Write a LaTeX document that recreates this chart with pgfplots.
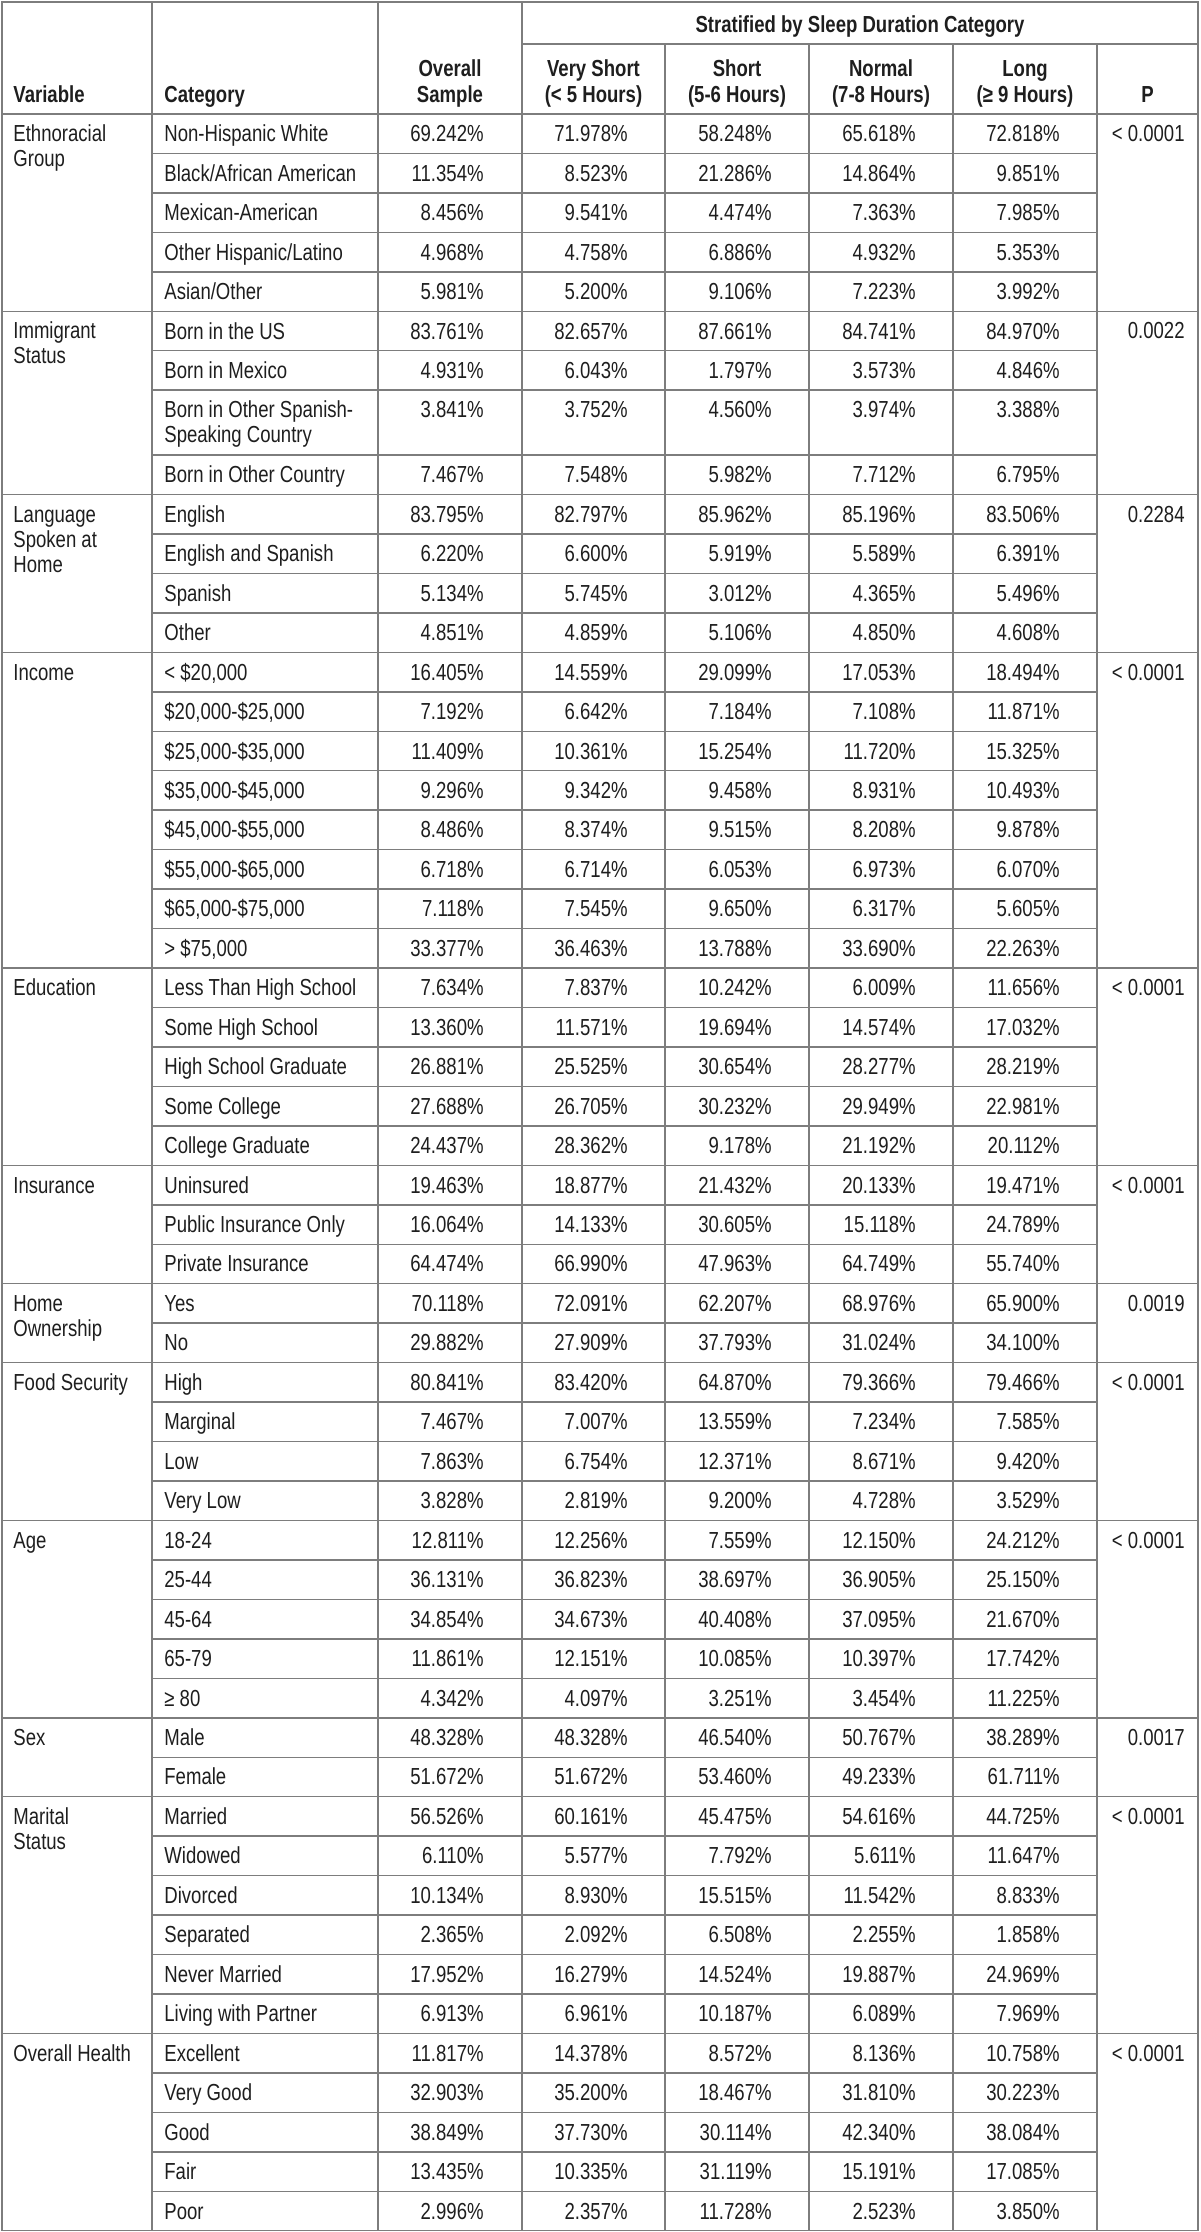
\documentclass[border=0pt]{standalone}
\usepackage{pgfplots}
\pgfplotsset{compat=1.18}
\usepackage{pgfplotstable}
\usepackage{fontspec}
\setmainfont{Liberation Sans}[FakeStretch=0.80]
\definecolor{txt}{RGB}{30,30,30}
\definecolor{rl}{RGB}{125,125,125}
\newcommand{\fs}{\fontsize{11.6}{12.5}\selectfont}
\newcommand{\ry}[1]{(141.7+(#1)*39.46+((#1)>7)*25.4)}

\pgfplotstableread[col sep=semicolon]{
cat;ov;vs;sh;no;lo
Non-Hispanic White;69.242;71.978;58.248;65.618;72.818
Black/African American;11.354;8.523;21.286;14.864;9.851
Mexican-American;8.456;9.541;4.474;7.363;7.985
Other Hispanic/Latino;4.968;4.758;6.886;4.932;5.353
Asian/Other;5.981;5.200;9.106;7.223;3.992
Born in the US;83.761;82.657;87.661;84.741;84.970
Born in Mexico;4.931;6.043;1.797;3.573;4.846
Born in Other Spanish-;3.841;3.752;4.560;3.974;3.388
Born in Other Country;7.467;7.548;5.982;7.712;6.795
English;83.795;82.797;85.962;85.196;83.506
English and Spanish;6.220;6.600;5.919;5.589;6.391
Spanish;5.134;5.745;3.012;4.365;5.496
Other;4.851;4.859;5.106;4.850;4.608
< \$20,000;16.405;14.559;29.099;17.053;18.494
\$20,000-\$25,000;7.192;6.642;7.184;7.108;11.871
\$25,000-\$35,000;11.409;10.361;15.254;11.720;15.325
\$35,000-\$45,000;9.296;9.342;9.458;8.931;10.493
\$45,000-\$55,000;8.486;8.374;9.515;8.208;9.878
\$55,000-\$65,000;6.718;6.714;6.053;6.973;6.070
\$65,000-\$75,000;7.118;7.545;9.650;6.317;5.605
> \$75,000;33.377;36.463;13.788;33.690;22.263
Less Than High School;7.634;7.837;10.242;6.009;11.656
Some High School;13.360;11.571;19.694;14.574;17.032
High School Graduate;26.881;25.525;30.654;28.277;28.219
Some College;27.688;26.705;30.232;29.949;22.981
College Graduate;24.437;28.362;9.178;21.192;20.112
Uninsured;19.463;18.877;21.432;20.133;19.471
Public Insurance Only;16.064;14.133;30.605;15.118;24.789
Private Insurance;64.474;66.990;47.963;64.749;55.740
Yes;70.118;72.091;62.207;68.976;65.900
No;29.882;27.909;37.793;31.024;34.100
High;80.841;83.420;64.870;79.366;79.466
Marginal;7.467;7.007;13.559;7.234;7.585
Low;7.863;6.754;12.371;8.671;9.420
Very Low;3.828;2.819;9.200;4.728;3.529
18-24;12.811;12.256;7.559;12.150;24.212
25-44;36.131;36.823;38.697;36.905;25.150
45-64;34.854;34.673;40.408;37.095;21.670
65-79;11.861;12.151;10.085;10.397;17.742
≥ 80;4.342;4.097;3.251;3.454;11.225
Male;48.328;48.328;46.540;50.767;38.289
Female;51.672;51.672;53.460;49.233;61.711
Married;56.526;60.161;45.475;54.616;44.725
Widowed;6.110;5.577;7.792;5.611;11.647
Divorced;10.134;8.930;15.515;11.542;8.833
Separated;2.365;2.092;6.508;2.255;1.858
Never Married;17.952;16.279;14.524;19.887;24.969
Living with Partner;6.913;6.961;10.187;6.089;7.969
Excellent;11.817;14.378;8.572;8.136;10.758
Very Good;32.903;35.200;18.467;31.810;30.223
Good;38.849;37.730;30.114;42.340;38.084
Fair;13.435;10.335;31.119;15.191;17.085
Poor;2.996;2.357;11.728;2.523;3.850
}\datatbl

\begin{document}
\begin{tikzpicture}
\begin{axis}[name=tbl, scale only axis, width=600pt, height=1116pt,
  xmin=0, xmax=1200, ymin=0, ymax=2232, y dir=reverse,
  hide axis, clip=false,
  every node near coord/.append style={inner sep=0pt, font=\fs, text=txt},
]
\addplot[draw=none, mark=none, nodes near coords, point meta=explicit symbolic,
  nodes near coords align={anchor=base west}]
  table[x expr=164, y expr={141.7+\coordindex*39.46+(\coordindex>7)*25.4}, meta=cat]{\datatbl};
\addplot[draw=none, mark=none, nodes near coords={\pgfplotspointmeta\%}, point meta=explicit symbolic,
  nodes near coords align={anchor=base east}]
  table[x expr=484, y expr={141.7+\coordindex*39.46+(\coordindex>7)*25.4}, meta=ov]{\datatbl};
\addplot[draw=none, mark=none, nodes near coords={\pgfplotspointmeta\%}, point meta=explicit symbolic,
  nodes near coords align={anchor=base east}]
  table[x expr=628, y expr={141.7+\coordindex*39.46+(\coordindex>7)*25.4}, meta=vs]{\datatbl};
\addplot[draw=none, mark=none, nodes near coords={\pgfplotspointmeta\%}, point meta=explicit symbolic,
  nodes near coords align={anchor=base east}]
  table[x expr=772, y expr={141.7+\coordindex*39.46+(\coordindex>7)*25.4}, meta=sh]{\datatbl};
\addplot[draw=none, mark=none, nodes near coords={\pgfplotspointmeta\%}, point meta=explicit symbolic,
  nodes near coords align={anchor=base east}]
  table[x expr=916, y expr={141.7+\coordindex*39.46+(\coordindex>7)*25.4}, meta=no]{\datatbl};
\addplot[draw=none, mark=none, nodes near coords={\pgfplotspointmeta\%}, point meta=explicit symbolic,
  nodes near coords align={anchor=base east}]
  table[x expr=1060, y expr={141.7+\coordindex*39.46+(\coordindex>7)*25.4}, meta=lo]{\datatbl};
\end{axis}
\begin{scope}[shift={(tbl.north west)}, x=0.5pt, y=-0.5pt]
  \path (0,0) rectangle (1200,2232);
  \tikzset{ln/.style={draw=rl, line width=0.75pt},
    t/.style={inner sep=0pt, font=\fs, text=txt},
    h/.style={inner sep=0pt, font=\fs\bfseries, text=txt, anchor=base}}
  % row lines inside groups
  \foreach \i in {1,...,52}
    \draw[ln] (152,{114+\i*39.46+(\i>7)*25.4}) -- (1097,{114+\i*39.46+(\i>7)*25.4});
  % group separators
  \foreach \i in {5,9,13,21,26,29,31,35,40,42,48}
    \draw[ln] (2,{114+\i*39.46+(\i>7)*25.4}) -- (1198,{114+\i*39.46+(\i>7)*25.4});
  \draw[ln] (2,114) -- (1198,114);
  \draw[ln] (522,44) -- (1198,44);
  \foreach \x in {152,378,522} \draw[ln] (\x,2) -- (\x,2230.5);
  \foreach \x in {665,809,953,1097} \draw[ln] (\x,44) -- (\x,2230.5);
  \draw[ln] (2,2) rectangle (1198,2230.5);
  % header
  \node[h] at (860,33) {Stratified by Sleep Duration Category};
  \node[h, anchor=base west] at (13,102.5) {Variable};
  \node[h, anchor=base west] at (164,102.5) {Category};
  \node[h] at (450,77) {Overall};   \node[h] at (450,102.5) {Sample};
  \node[h] at (593.5,77) {Very Short}; \node[h] at (593.5,102.5) {(< 5 Hours)};
  \node[h] at (737,77) {Short};     \node[h] at (737,102.5) {(5-6 Hours)};
  \node[h] at (881,77) {Normal};    \node[h] at (881,102.5) {(7-8 Hours)};
  \node[h] at (1025,77) {Long};     \node[h] at (1025,102.5) {(≥ 9 Hours)};
  \node[h] at (1147.5,102.5) {P};
  % second line of the double row
  \node[t, anchor=base west] at (164,{\ry{7}+25}) {Speaking Country};
  % variable names
  \node[t, anchor=base west] at (13,{\ry{0}}) {Ethnoracial};
  \node[t, anchor=base west] at (13,{\ry{0}+25}) {Group};
  \node[t, anchor=base west] at (13,{\ry{5}}) {Immigrant};
  \node[t, anchor=base west] at (13,{\ry{5}+25}) {Status};
  \node[t, anchor=base west] at (13,{\ry{9}}) {Language};
  \node[t, anchor=base west] at (13,{\ry{9}+25}) {Spoken at};
  \node[t, anchor=base west] at (13,{\ry{9}+50}) {Home};
  \node[t, anchor=base west] at (13,{\ry{13}}) {Income};
  \node[t, anchor=base west] at (13,{\ry{21}}) {Education};
  \node[t, anchor=base west] at (13,{\ry{26}}) {Insurance};
  \node[t, anchor=base west] at (13,{\ry{29}}) {Home};
  \node[t, anchor=base west] at (13,{\ry{29}+25}) {Ownership};
  \node[t, anchor=base west] at (13,{\ry{31}}) {Food Security};
  \node[t, anchor=base west] at (13,{\ry{35}}) {Age};
  \node[t, anchor=base west] at (13,{\ry{40}}) {Sex};
  \node[t, anchor=base west] at (13,{\ry{42}}) {Marital};
  \node[t, anchor=base west] at (13,{\ry{42}+25}) {Status};
  \node[t, anchor=base west] at (13,{\ry{48}}) {Overall Health};
  % p values
  \node[t, anchor=base east] at (1185,{\ry{0}}) {< 0.0001};
  \node[t, anchor=base east] at (1185,{\ry{5}}) {0.0022};
  \node[t, anchor=base east] at (1185,{\ry{9}}) {0.2284};
  \node[t, anchor=base east] at (1185,{\ry{13}}) {< 0.0001};
  \node[t, anchor=base east] at (1185,{\ry{21}}) {< 0.0001};
  \node[t, anchor=base east] at (1185,{\ry{26}}) {< 0.0001};
  \node[t, anchor=base east] at (1185,{\ry{29}}) {0.0019};
  \node[t, anchor=base east] at (1185,{\ry{31}}) {< 0.0001};
  \node[t, anchor=base east] at (1185,{\ry{35}}) {< 0.0001};
  \node[t, anchor=base east] at (1185,{\ry{40}}) {0.0017};
  \node[t, anchor=base east] at (1185,{\ry{42}}) {< 0.0001};
  \node[t, anchor=base east] at (1185,{\ry{48}}) {< 0.0001};
\end{scope}
\end{tikzpicture}
\end{document}
